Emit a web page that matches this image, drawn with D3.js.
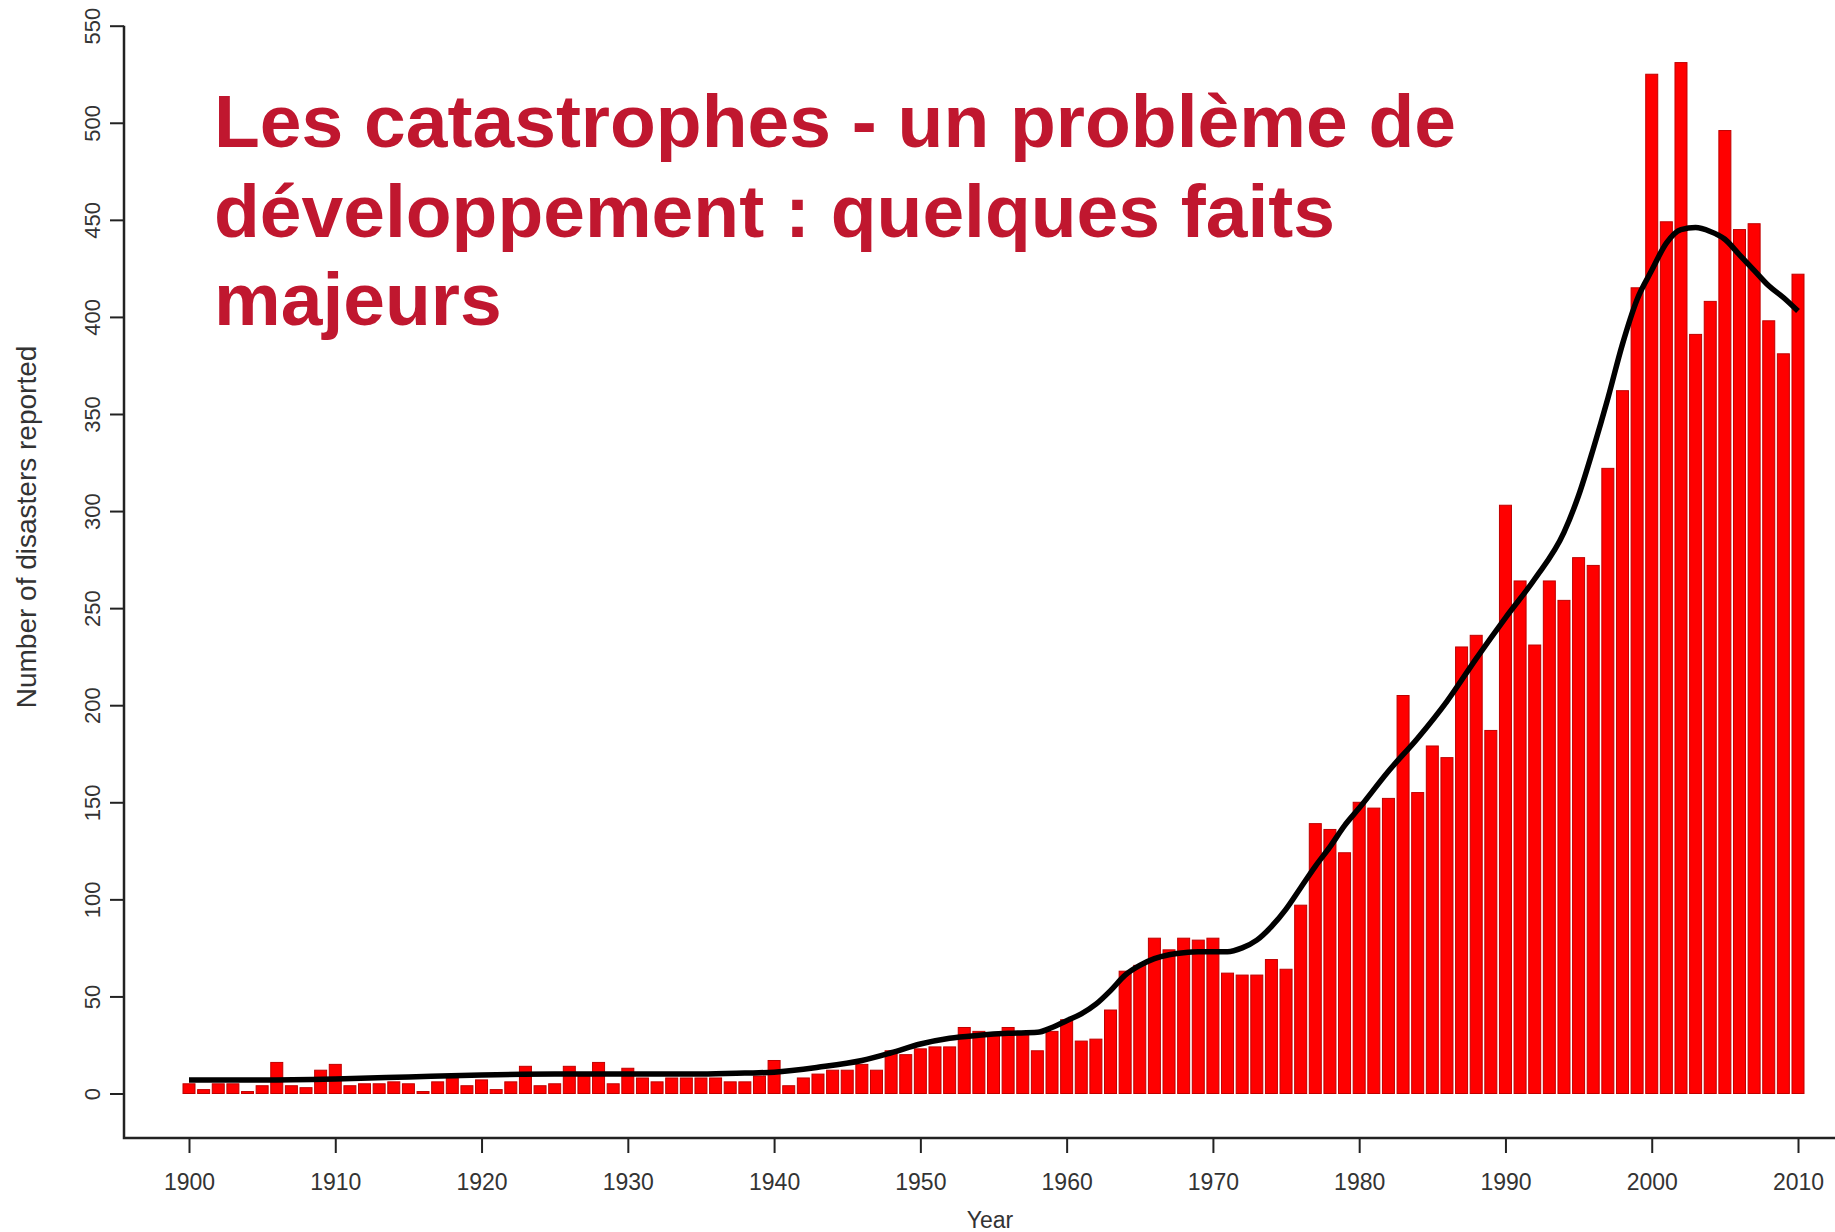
<!DOCTYPE html>
<html>
<head>
<meta charset="utf-8">
<script src="https://cdn.jsdelivr.net/npm/d3@7"></script>
<style>
  body { margin: 0; background: #fff; }
  text { font-family: "Liberation Sans", Arial, sans-serif; }
</style>
</head>
<body>
<script>
let years = d3.range(1900, 2011);
let counts = [5, 2, 5, 5, 1, 4, 16, 4, 3, 12,
  15, 4, 5, 5, 6, 5, 1, 6, 8, 4,
  7, 2, 6, 14, 4, 5, 14, 9, 16, 5,
  13, 8, 6, 8, 8, 8, 8, 6, 6, 9,
  17, 4, 8, 10, 12, 12, 15, 12, 22, 20,
  23, 24, 24, 34, 32, 30, 34, 30, 22, 32,
  38, 27, 28, 43, 63, 66, 80, 74, 80, 79,
  80, 62, 61, 61, 69, 64, 97, 139, 136, 124,
  150, 147, 152, 205, 155, 179, 173, 230, 236, 187,
  303, 264, 231, 264, 254, 276, 272, 322, 362, 415,
  525, 449, 531, 391, 408, 496, 445, 448, 398, 381,
  422];

// smoothed trend
let trendYears = [1900, 1905, 1910, 1915, 1920, 1925, 1930, 1935, 1938, 1940,
  1943, 1946, 1948, 1950, 1952, 1954, 1956, 1958, 1959, 1960,
  1961, 1962, 1963, 1964, 1965, 1966, 1967, 1968, 1969, 1970,
  1971, 1972, 1973, 1974, 1975, 1976, 1977, 1978, 1979, 1980,
  1982, 1984, 1986, 1988, 1990, 1992, 1994, 1995, 1996, 1997,
  1998, 1999, 2000, 2001, 2002, 2003, 2004, 2005, 2006, 2007,
  2008, 2009, 2010];
let trendValues = [7, 7, 7.5, 8.5, 9.5, 10, 10, 10, 10.5, 11,
  13.5, 17, 21, 25.5, 28.5, 30, 31, 31.5, 34, 37.5,
  41, 46, 53, 61, 66, 69.5, 71.5, 72.5, 73, 73,
  73, 75, 79, 86, 95, 106, 117, 127, 138, 147,
  166, 183, 202, 224, 245, 265, 289, 308, 332, 358,
  386, 409, 424, 438, 445, 446, 444, 440, 432, 424,
  416, 410, 403];

let yTicks = d3.range(0, 551, 50);
let xTicks = d3.range(1900, 2011, 10);
let titleLines = ["Les catastrophes - un problème de", "développement : quelques faits", "majeurs"];

let width = 1835,
  height = 1232,
  axisX = 124,
  axisY = 1138;

let x = d3.scaleLinear().domain([1900, 2010]).range([189, 1798]);
let y = d3.scaleLinear().domain([0, 550]).range([1093.5, 25.7]);
let barW = 12;

let svg = d3.select("body").append("svg")
  .attr("width", width)
  .attr("height", height);

svg.append("rect").attr("width", width).attr("height", height).attr("fill", "#fff");

// bars
svg.append("g").selectAll("rect")
  .data(years)
  .enter().append("rect")
  .attr("x", (d) => x(d) - barW / 2)
  .attr("width", barW)
  .attr("y", (d, i) => y(counts[i]))
  .attr("height", (d, i) => y(0) - y(counts[i]))
  .attr("fill", "#ff0000")
  .attr("stroke", "#c00000")
  .attr("stroke-width", 1);

// trend line
let line = d3.line()
  .x((d, i) => x(trendYears[i]))
  .y((d) => y(d))
  .curve(d3.curveMonotoneX);

svg.append("path")
  .attr("d", line(trendValues))
  .attr("fill", "none")
  .attr("stroke", "#000")
  .attr("stroke-width", 5.5)
  .attr("stroke-linejoin", "round");

// axes
let yAxis = svg.append("g")
  .attr("transform", `translate(${axisX},0)`)
  .call(d3.axisLeft(y).tickValues(yTicks).tickSize(14).tickSizeOuter(0));
yAxis.select(".domain").remove();
yAxis.selectAll("line").attr("stroke", "#222").attr("stroke-width", 2);
yAxis.selectAll("text")
  .attr("x", null).attr("dy", null)
  .attr("transform", "translate(-24,0) rotate(-90)")
  .attr("text-anchor", "middle")
  .attr("font-size", 22)
  .attr("fill", "#333");

let xAxis = svg.append("g")
  .attr("transform", `translate(0,${axisY})`)
  .call(d3.axisBottom(x).tickValues(xTicks).tickFormat(d3.format("d")).tickSize(15).tickSizeOuter(0));
xAxis.select(".domain").remove();
xAxis.selectAll("line").attr("stroke", "#222").attr("stroke-width", 2);
xAxis.selectAll("text")
  .attr("y", 52).attr("dy", null)
  .attr("font-size", 23)
  .attr("fill", "#333");

// L-shaped frame
svg.append("path")
  .attr("d", `M${axisX},${y(550)}V${axisY}H${width}`)
  .attr("fill", "none")
  .attr("stroke", "#222")
  .attr("stroke-width", 2.5);

// axis titles
svg.append("text")
  .attr("transform", "translate(36,527) rotate(-90)")
  .attr("text-anchor", "middle")
  .attr("font-size", 28)
  .attr("fill", "#333")
  .text("Number of disasters reported");

svg.append("text")
  .attr("x", 990)
  .attr("y", 1228)
  .attr("text-anchor", "middle")
  .attr("font-size", 23)
  .attr("fill", "#333")
  .text("Year");

// slide title
svg.append("text")
  .attr("font-size", 75)
  .attr("font-weight", "bold")
  .attr("fill", "#c0172f")
  .selectAll("tspan")
  .data(titleLines)
  .enter().append("tspan")
  .attr("x", 214)
  .attr("y", (d, i) => [147, 237, 325][i])
  .text((d) => d);
</script>
</body>
</html>
